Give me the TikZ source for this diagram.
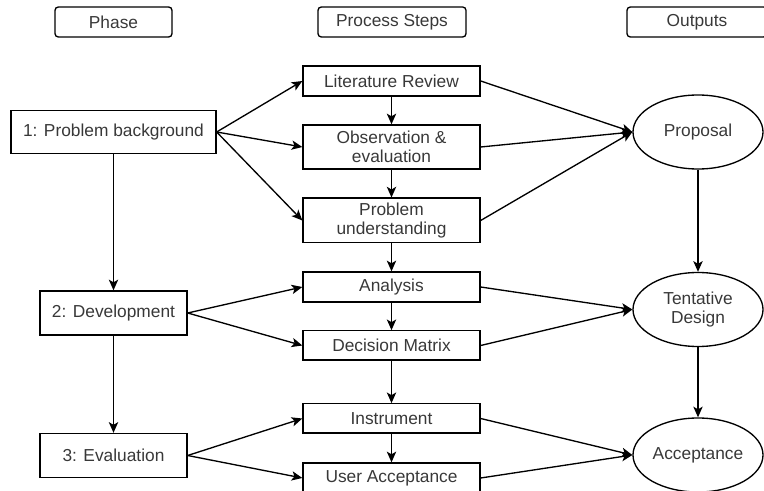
\documentclass[tikz,border=0pt]{standalone}
\usepackage{fontspec}
\setmainfont{Liberation Sans}
\usetikzlibrary{shapes.geometric,arrows.meta}

\begin{document}
\begin{tikzpicture}[x=0.75pt,y=-0.75pt,
    every node/.style={font=\fontsize{13}{14.5}\selectfont, text=black!78, align=center, inner sep=0pt},
    headbox/.style={draw, rounded corners=2.5pt, line width=1pt, minimum height=22.5pt},
    phasebox/.style={draw, line width=1pt, minimum height=33pt},
    stepbox/.style={draw, line width=1pt, minimum width=132.75pt},
    outbox/.style={draw, ellipse, line width=1pt, minimum width=97.5pt, minimum height=55.5pt},
    arr/.style={-{Stealth[length=8pt,width=7pt,inset=2pt]}, line width=1pt}]
  \useasboundingbox (0,0) rectangle (764,491);
  % headers
  \node [headbox, minimum width=87.75pt] (HPH) at (113.5,22) {Phase};
  \node [headbox, minimum width=111pt] (HPS) at (392,22) {Process Steps};
  \node [headbox, minimum width=105pt] (HOU) at (697,22) {Outputs};
  % phases
  \node [phasebox, minimum width=153.75pt, minimum height=32.25pt] (PB) at (113.5,132) {1: Problem background};
  \node [phasebox, minimum width=110.25pt] (DEV) at (113.5,313) {2: Development};
  \node [phasebox, minimum width=110.25pt] (EVA) at (113.5,455.5) {3: Evaluation};
  % process steps
  \node [stepbox, minimum height=22.5pt] (LR) at (391.5,81) {Literature Review};
  \node [stepbox, minimum height=33pt] (OBS) at (391.5,147) {Observation \&\\evaluation};
  \node [stepbox, minimum height=33.5pt] (PU) at (391.5,220.5) {Problem\\understanding};
  \node [stepbox, minimum height=22.5pt] (AN) at (391.5,287) {Analysis};
  \node [stepbox, minimum height=22pt] (DM) at (391.5,345.5) {Decision Matrix};
  \node [stepbox, minimum height=22pt] (INS) at (391.5,418.5) {Instrument};
  \node [stepbox, minimum height=22.5pt] (UA) at (391.5,478) {User Acceptance};
  % outputs
  \node [outbox] (PRO) at (698,132) {Proposal};
  \node [outbox] (TD) at (698,309.5) {Tentative\\Design};
  \node [outbox] (ACC) at (698,455) {Acceptance};
  % phase to steps
  \draw [arr] (PB.east) -- (LR.west);
  \draw [arr] (PB.east) -- (OBS.west);
  \draw [arr] (PB.east) -- (PU.west);
  \draw [arr] (DEV.east) -- (AN.west);
  \draw [arr] (DEV.east) -- (DM.west);
  \draw [arr] (EVA.east) -- (INS.west);
  \draw [arr] (EVA.east) -- (UA.west);
  % phase chain
  \draw [arr] (PB.south) -- (DEV.north);
  \draw [arr] (DEV.south) -- (EVA.north);
  % step chain
  \draw [arr] (LR.south) -- (OBS.north);
  \draw [arr] (OBS.south) -- (PU.north);
  \draw [arr] (PU.south) -- (AN.north);
  \draw [arr] (AN.south) -- (DM.north);
  \draw [arr] (DM.south) -- (INS.north);
  \draw [arr] (INS.south) -- (UA.north);
  % steps to outputs
  \draw [arr] (LR.east) -- (PRO.west);
  \draw [arr] (OBS.east) -- (PRO.west);
  \draw [arr] (PU.east) -- (PRO.west);
  \draw [arr] (AN.east) -- (TD.west);
  \draw [arr] (DM.east) -- (TD.west);
  \draw [arr] (INS.east) -- (ACC.west);
  \draw [arr] (UA.east) -- (ACC.west);
  % output chain
  \draw [arr] (PRO.south) -- (TD.north);
  \draw [arr] (TD.south) -- (ACC.north);
\end{tikzpicture}
\end{document}
